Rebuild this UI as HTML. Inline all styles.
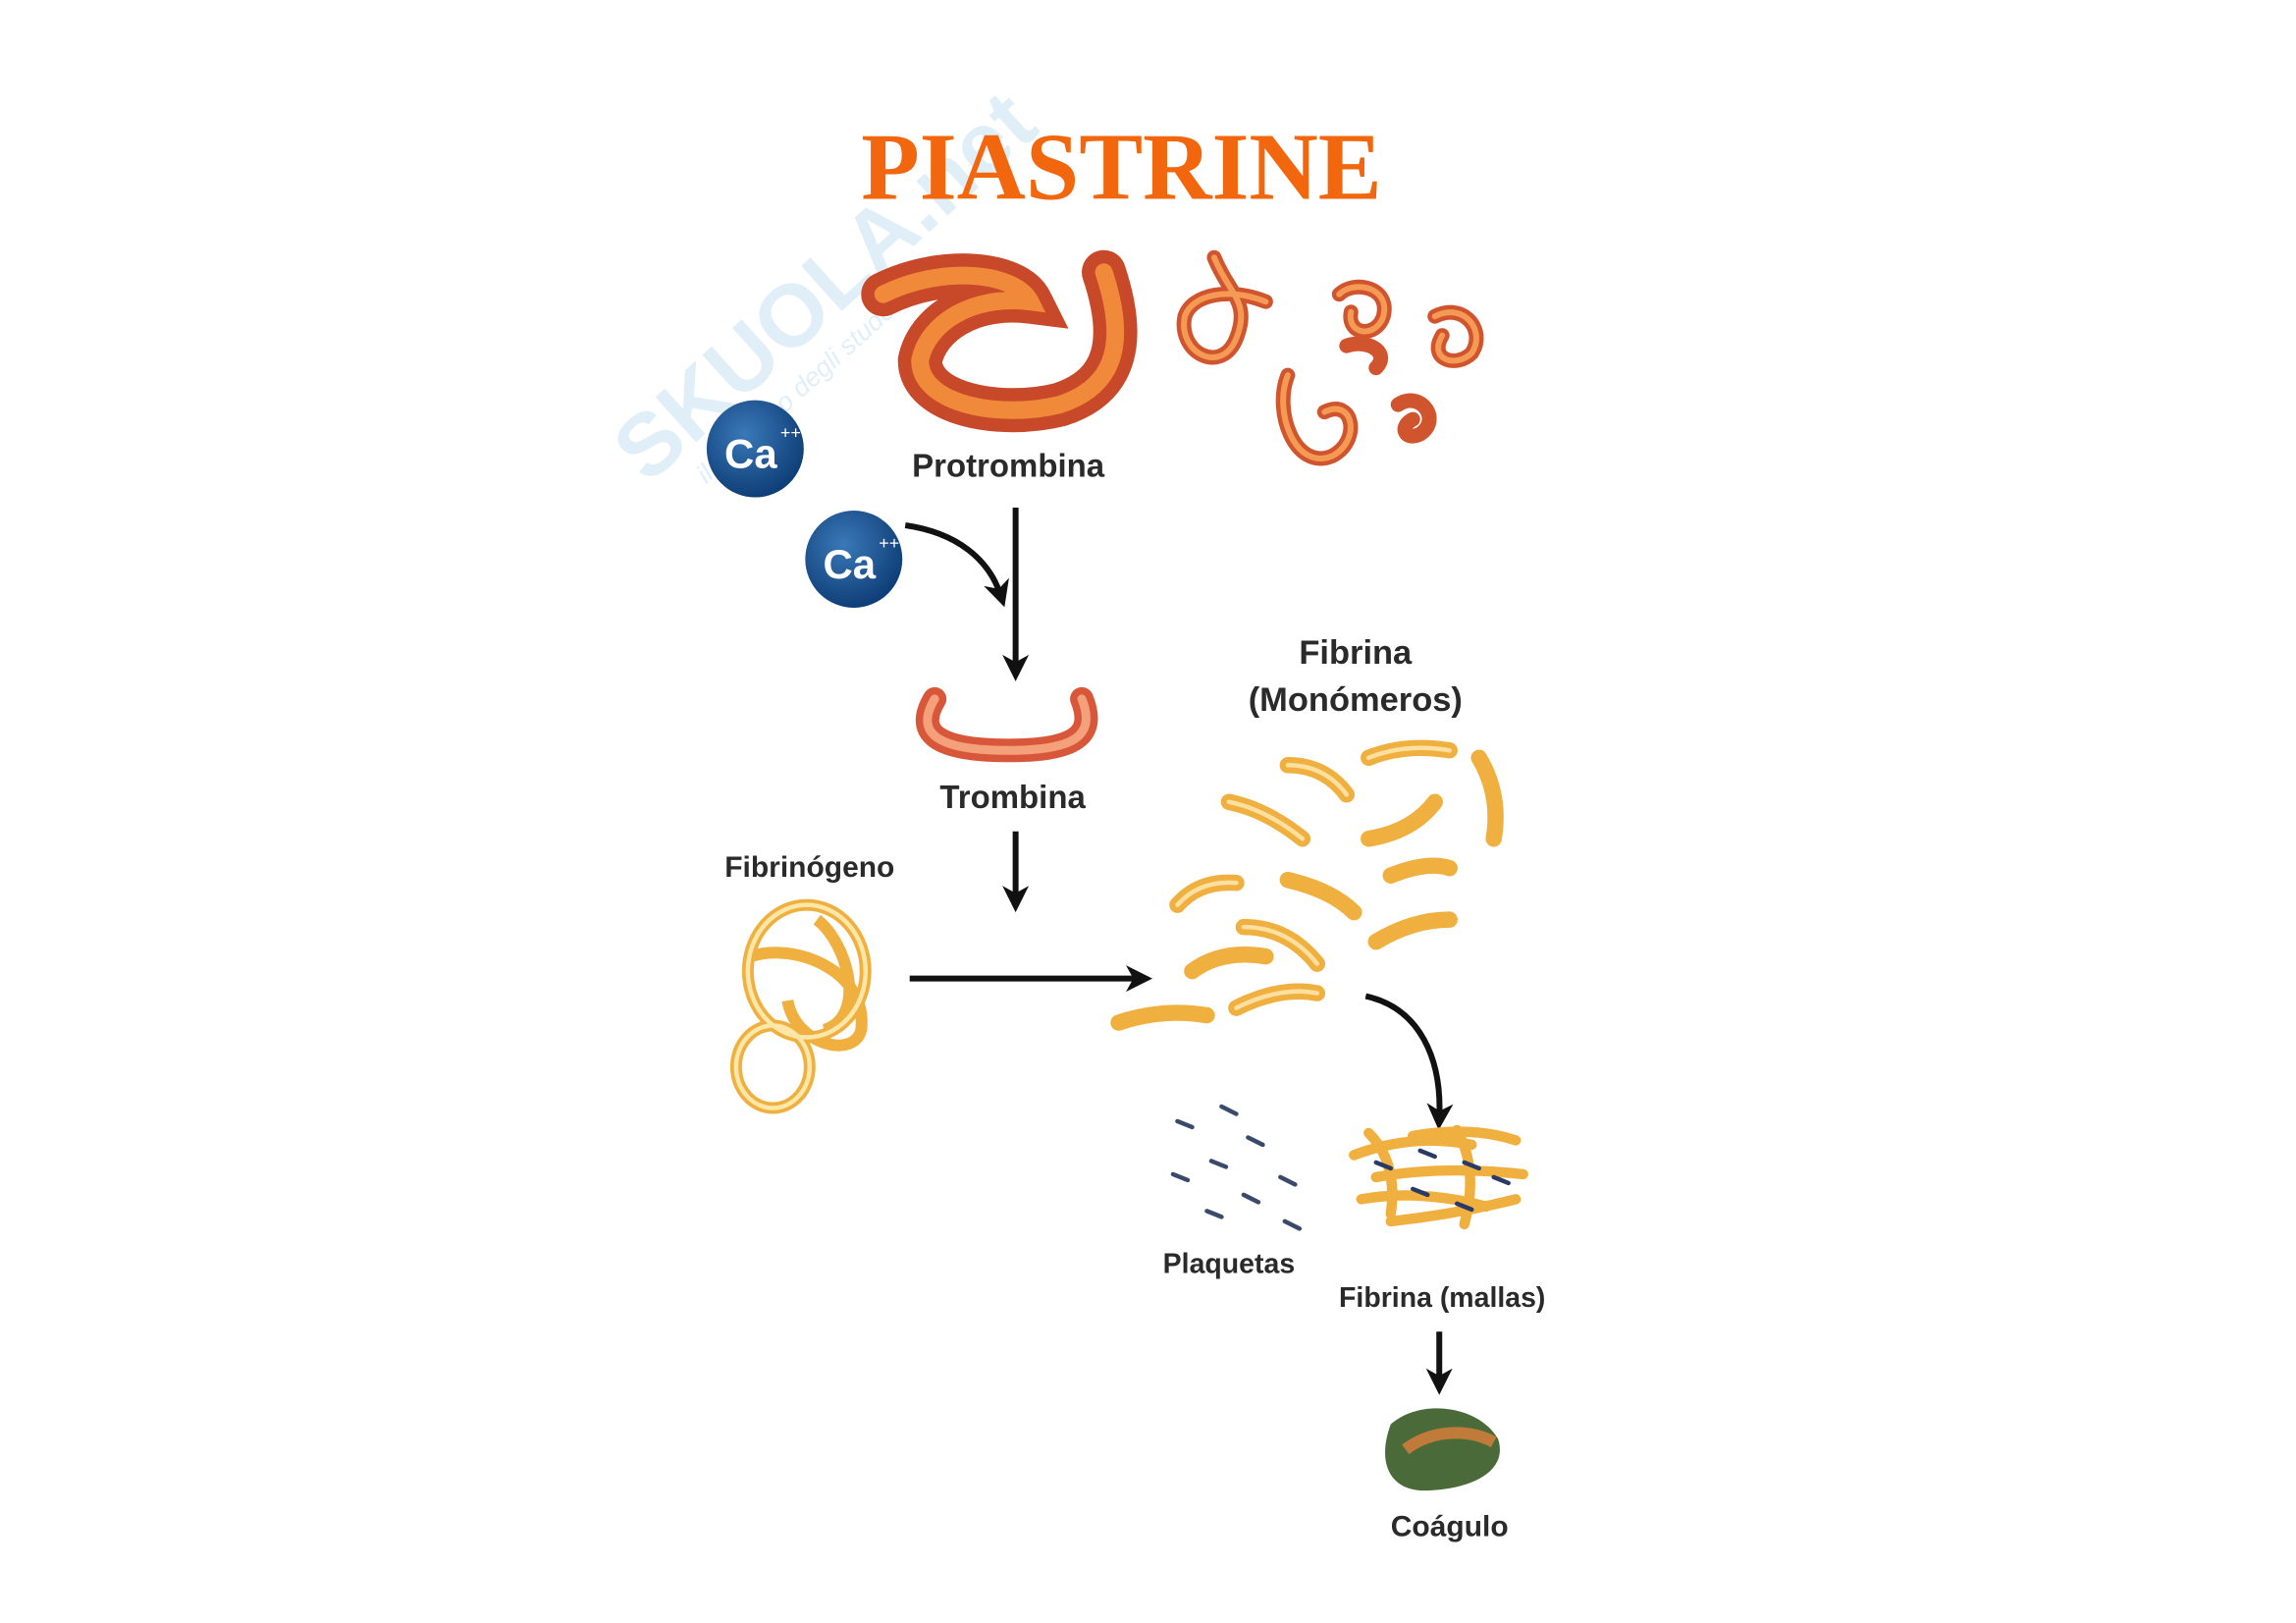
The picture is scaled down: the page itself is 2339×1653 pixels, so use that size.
<!DOCTYPE html>
<html><head><meta charset="utf-8"><style>html,body{margin:0;padding:0;background:#fff;}svg{display:block}</style></head>
<body>
<svg width="2339" height="1653" viewBox="0 0 1560 1103" xmlns="http://www.w3.org/2000/svg">
<defs>
<marker id="ah" markerWidth="18" markerHeight="18" refX="10" refY="9" orient="auto" markerUnits="userSpaceOnUse" viewBox="0 0 18 18"><path d="M0,0 L18,9 L0,18 L5,9 z" fill="#111"/></marker>
<radialGradient id="ca" cx="40%" cy="35%" r="65%"><stop offset="0" stop-color="#3a78b8"/><stop offset="1" stop-color="#0f3f78"/></radialGradient>
</defs>
<!-- watermark -->
<g transform="rotate(-42 440 330)" opacity="0.14">
<text x="440" y="330" font-family="Liberation Sans, sans-serif" font-weight="bold" font-size="60" fill="#2a8fd0">SKUOLA.net</text>
<text x="470" y="356" font-family="Liberation Sans, sans-serif" font-style="italic" font-size="18" fill="#2a8fd0">il paradiso degli studenti</text>
</g>
<text x="762" y="135" text-anchor="middle" font-family="Liberation Serif, serif" font-weight="bold" font-size="65" fill="#f2660d">PIASTRINE</text>

<!-- Protrombina -->
<g fill="none" stroke-linecap="round">
<path d="M600,200 C640,180 690,185 700,205 C660,200 630,220 625,245 C625,275 680,285 720,275 C760,262 765,230 750,185" stroke="#c8482a" stroke-width="30"/>
<path d="M600,200 C640,180 690,185 700,205 C660,200 630,220 625,245 C625,275 680,285 720,275 C760,262 765,230 750,185" stroke="#f08a3a" stroke-width="12"/>
</g>
<g fill="none" stroke-linecap="round" stroke="#d0552f" stroke-width="10">
<path d="M825,175 C835,200 850,205 840,230 C830,255 800,240 805,215 C810,200 835,195 860,205"/>
<path d="M875,255 C865,280 880,320 905,310 C925,300 920,270 900,280"/>
<path d="M910,200 C920,190 945,195 940,215 C935,230 915,228 918,212"/>
<path d="M950,275 C965,265 980,285 965,295 C955,300 950,290 960,285"/>
<path d="M975,215 C995,205 1010,225 1000,240 C990,250 970,245 980,228"/>
<path d="M915,235 C930,230 945,240 935,250"/>
</g>
<g fill="none" stroke-linecap="round" stroke="#f59a55" stroke-width="4">
<path d="M825,175 C835,200 850,205 840,230 C830,255 800,240 805,215 C810,200 835,195 860,205"/>
<path d="M875,255 C865,280 880,320 905,310 C925,300 920,270 900,280"/>
<path d="M910,200 C920,190 945,195 940,215 C935,230 915,228 918,212"/>
<path d="M975,215 C995,205 1010,225 1000,240 C990,250 970,245 980,228"/>
</g>

<!-- Ca -->
<circle cx="513" cy="305" r="33" fill="url(#ca)"/>
<text x="510" y="318" text-anchor="middle" font-family="Liberation Sans, sans-serif" font-weight="bold" font-size="28" fill="#fff">Ca</text>
<text x="530" y="298" font-family="Liberation Sans, sans-serif" font-size="12" fill="#fff">++</text>
<circle cx="580" cy="380" r="33" fill="url(#ca)"/>
<text x="577" y="393" text-anchor="middle" font-family="Liberation Sans, sans-serif" font-weight="bold" font-size="28" fill="#fff">Ca</text>
<text x="597" y="373" font-family="Liberation Sans, sans-serif" font-size="12" fill="#fff">++</text>

<g font-family="Liberation Sans, sans-serif" font-weight="bold" fill="#2a2a2a" text-anchor="middle">
<text x="685" y="324" font-size="22">Protrombina</text>
<text x="688" y="549" font-size="22">Trombina</text>
<text x="550" y="596" font-size="20">Fibrinógeno</text>
<text x="921" y="451" font-size="23">Fibrina</text>
<text x="921" y="483" font-size="23">(Monómeros)</text>
<text x="835" y="865" font-size="19">Plaquetas</text>
<text x="980" y="888" font-size="19">Fibrina (mallas)</text>
<text x="985" y="1044" font-size="20">Coágulo</text>
</g>

<!-- arrows -->
<g stroke="#111" stroke-width="4" fill="none">
<line x1="690" y1="345" x2="690" y2="455" marker-end="url(#ah)"/>
<path d="M615,357 C650,362 672,380 680,405" marker-end="url(#ah)"/>
<line x1="690" y1="565" x2="690" y2="612" marker-end="url(#ah)"/>
<line x1="618" y1="665" x2="775" y2="665" marker-end="url(#ah)"/>
<path d="M928,677 C965,685 980,720 978,760" marker-end="url(#ah)"/>
<line x1="978" y1="905" x2="978" y2="940" marker-end="url(#ah)"/>
</g>

<!-- Trombina -->
<path d="M635,475 C620,500 640,510 685,510 C730,510 745,500 735,475" fill="none" stroke="#d8573a" stroke-width="16" stroke-linecap="round"/>
<path d="M635,475 C620,500 640,510 685,510 C730,510 745,500 735,475" fill="none" stroke="#f4a07a" stroke-width="6" stroke-linecap="round"/>

<!-- Fibrinogeno -->
<g fill="none" stroke="#f0b040" stroke-width="8">
<ellipse cx="548" cy="660" rx="40" ry="45"/>
<ellipse cx="525" cy="725" rx="25" ry="28"/>
<path d="M510,650 C540,640 590,660 585,700 C580,720 540,710 535,680"/>
<path d="M555,625 C575,640 590,690 560,700"/>
</g>
<g fill="none" stroke="#fde7a8" stroke-width="3">
<ellipse cx="548" cy="660" rx="40" ry="45"/>
<ellipse cx="525" cy="725" rx="25" ry="28"/>
</g>

<!-- monomers -->
<g fill="none" stroke-linecap="round" stroke="#f0b040" stroke-width="11">
<path d="M875,520 Q900,520 915,540"/>
<path d="M930,515 Q955,505 985,510"/>
<path d="M1005,515 Q1020,540 1015,570"/>
<path d="M835,545 Q860,550 885,570"/>
<path d="M930,570 Q960,565 975,545"/>
<path d="M945,595 Q970,585 985,590"/>
<path d="M800,615 Q815,598 840,600"/>
<path d="M875,598 Q905,605 920,620"/>
<path d="M935,640 Q960,625 985,625"/>
<path d="M845,630 Q875,630 895,655"/>
<path d="M810,660 Q830,645 860,650"/>
<path d="M840,685 Q870,670 895,675"/>
<path d="M760,695 Q790,685 820,690"/>
</g>
<g fill="none" stroke-linecap="round" stroke="#fde0a0" stroke-width="3">
<path d="M875,520 Q900,520 915,540"/><path d="M930,515 Q955,505 985,510"/>
<path d="M835,545 Q860,550 885,570"/><path d="M800,615 Q815,598 840,600"/>
<path d="M845,630 Q875,630 895,655"/><path d="M840,685 Q870,670 895,675"/>
</g>

<!-- plaquetas -->
<g stroke="#3a4a6a" stroke-width="3" stroke-linecap="round">
<line x1="800" y1="762" x2="810" y2="766"/><line x1="830" y1="752" x2="840" y2="757"/>
<line x1="848" y1="773" x2="858" y2="778"/><line x1="823" y1="789" x2="833" y2="793"/>
<line x1="797" y1="798" x2="807" y2="802"/><line x1="870" y1="800" x2="880" y2="805"/>
<line x1="845" y1="812" x2="855" y2="817"/><line x1="820" y1="823" x2="830" y2="827"/>
<line x1="873" y1="830" x2="883" y2="835"/>
</g>

<!-- mesh -->
<g fill="none" stroke="#f0b040" stroke-width="7" stroke-linecap="round">
<path d="M920,785 Q960,770 1000,778"/><path d="M935,800 Q980,792 1035,798"/>
<path d="M925,815 Q965,808 1010,820"/><path d="M945,830 Q990,825 1030,815"/>
<path d="M960,772 Q1000,765 1030,775"/><path d="M930,770 Q950,790 945,825"/>
<path d="M990,768 Q1005,795 995,832"/>
</g>
<g stroke="#2a3a66" stroke-width="3" stroke-linecap="round">
<line x1="935" y1="790" x2="945" y2="794"/><line x1="965" y1="782" x2="975" y2="786"/>
<line x1="995" y1="790" x2="1005" y2="794"/><line x1="960" y1="808" x2="970" y2="812"/>
<line x1="990" y1="818" x2="1000" y2="822"/><line x1="1015" y1="800" x2="1025" y2="804"/>
</g>

<!-- clot -->
<path d="M945,968 C965,950 1005,955 1018,978 C1025,1000 1000,1012 970,1013 C945,1014 935,995 945,968 Z" fill="#4a6a3a"/>
<path d="M955,985 C975,970 1000,972 1015,980" stroke="#c07a3a" stroke-width="8" fill="none"/>
</svg>
</body></html>
